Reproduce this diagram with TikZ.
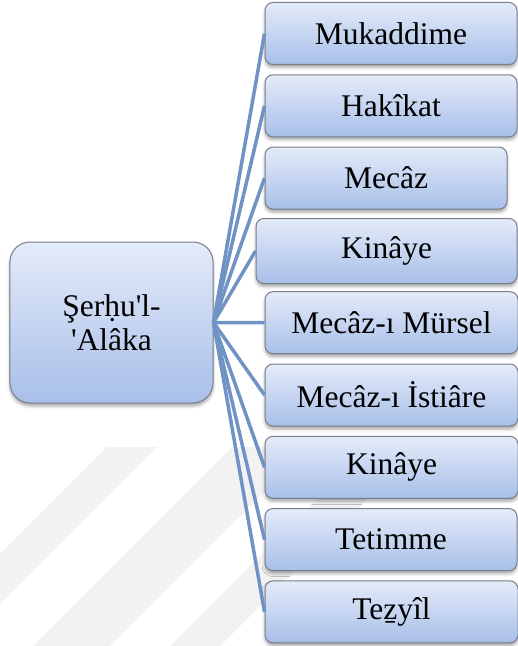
\documentclass[tikz,border=0pt]{standalone}
\usepackage{fontspec}
\setmainfont{LiberationSerif}[Extension=.ttf, UprightFont=*-Regular, BoldFont=*-Bold]
\newfontfamily\boxfont{LiberationSerif}[Extension=.ttf, UprightFont=*-Regular]
\usetikzlibrary{positioning, shadows.blur}
\definecolor{boxtop}{RGB}{228,235,249}
\definecolor{boxbottom}{RGB}{168,191,233}
\definecolor{boxline}{RGB}{118,126,138}
\definecolor{linkblue}{RGB}{112,146,196}
\definecolor{markgray}{RGB}{242,242,242}
\tikzset{
  itembox/.style={draw=boxline, line width=1bp, rounded corners=8bp,
    top color=boxtop, bottom color=boxbottom, minimum height=62bp, inner sep=0pt,
    font=\boxfont\fontsize{31.5bp}{34bp}\selectfont,
    blur shadow={shadow xshift=0bp, shadow yshift=-3bp, shadow blur radius=3bp, shadow opacity=35}},
  rootbox/.style={itembox, rounded corners=20bp, minimum width=203bp, minimum height=161bp, align=center},
  link/.style={draw=linkblue, line width=3.5bp}
}

\begin{document}
\begin{tikzpicture}[x=1bp, y=-1bp]
	\useasboundingbox (0,0) rectangle (518,646);
	% Watermark stripes
	\begin{scope}
		\clip (0,0) rectangle (518,646);
		\fill[markgray] (107,447) -- (157,447) -- (-42,646) -- (-92,646) -- cycle;
		\fill[markgray] (232,447) -- (309,447) -- (110,646) -- (33,646) -- cycle;
		\fill[markgray] (369,447) -- (419,447) -- (220,646) -- (170,646) -- cycle;
	\end{scope}

	% Root box
	\node[rootbox] (root) at (111.5,322.5) {Şerḥu\textquotesingle l-\\\textquotesingle Alâka};

	% Child boxes
	\node[itembox, minimum width=252bp] (mukaddime) at (391,33.5) {Mukaddime};
	\node[itembox, minimum width=252bp] (hakikat) at (391,105.8) {Hakîkat};
	\node[itembox, minimum width=242bp] (mecaz) at (386,178.1) {Mecâz};
	\node[itembox, minimum width=261bp, minimum height=65bp] (kinaye) at (386.5,251) {Kinâye};
	\node[itembox, minimum width=253bp] (mursel) at (391.5,322.7) {Mecâz-ı Mürsel};
	\node[itembox, minimum width=253bp] (istiare) at (391.5,395) {Mecâz-ı İstiâre};
	\node[itembox, minimum width=253bp] (kinayeb) at (391.5,467.3) {Kinâye};
	\node[itembox, minimum width=252bp] (tetimme) at (391,539.6) {Tetimme};
	\node[itembox, minimum width=253bp] (tezyil) at (391.5,611.9) {Teẕyîl};

	% Connectors
	\foreach \child in {mukaddime, hakikat, mecaz, kinaye, mursel, istiare, kinayeb, tetimme, tezyil}
		\draw[link] (root.east) -- (\child.west);
\end{tikzpicture}
\end{document}
